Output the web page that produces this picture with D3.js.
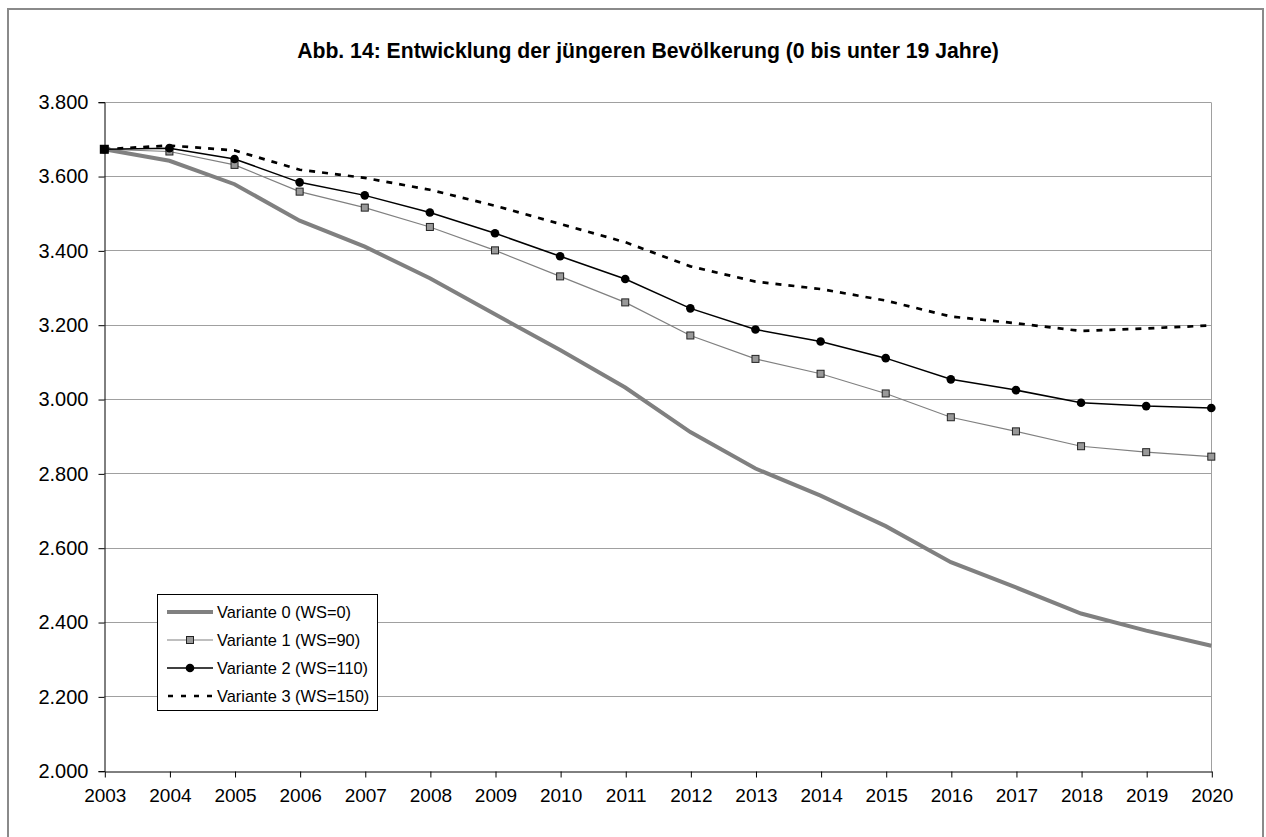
<!DOCTYPE html>
<html><head><meta charset="utf-8">
<script src="https://cdn.jsdelivr.net/npm/d3@7/dist/d3.min.js"></script>
<style>body{margin:0;background:#fff}svg{display:block}text{font-family:Arial,"Liberation Sans",sans-serif}</style>
</head><body>
<svg id="c" width="1266" height="837"></svg>
<script>
const years = [2003,2004,2005,2006,2007,2008,2009,2010,2011,2012,2013,2014,2015,2016,2017,2018,2019,2020];
const variante0 = [3672,3641,3578,3480,3410,3325,3228,3132,3031,2911,2813,2740,2658,2561,2493,2423,2377,2336];
const variante1 = [3672,3666,3630,3558,3515,3463,3400,3330,3260,3171,3108,3068,3015,2951,2913,2873,2857,2845];
const variante2 = [3672,3675,3646,3583,3548,3502,3446,3384,3323,3244,3187,3155,3110,3053,3024,2990,2981,2976];
const variante3 = [3672,3682,3669,3617,3595,3563,3520,3471,3422,3357,3316,3296,3265,3222,3204,3183,3190,3198];
const yTicks = [2000,2200,2400,2600,2800,3000,3200,3400,3600,3800];
const seriesNames = ["Variante 0 (WS=0)","Variante 1 (WS=90)","Variante 2 (WS=110)","Variante 3 (WS=150)"];
const title = "Abb. 14: Entwicklung der jüngeren Bevölkerung (0 bis unter 19 Jahre)";

const svg = d3.select("#c");
const L = 104.3, R = 1211.3, T = 101.7, B = 770.7;
const x = d3.scaleLinear().domain([2003,2020]).range([L,R]);
const y = d3.scaleLinear().domain([2000,3800]).range([B,T]);

// outer frame
svg.append("rect").attr("x",8).attr("y",9).attr("width",1255).attr("height",860)
  .attr("fill","#fff").attr("stroke","#8a8a8a").attr("stroke-width",2);

// title
svg.append("text").attr("x",648).attr("y",58).attr("text-anchor","middle")
  .attr("font-weight","bold").attr("font-size",21.2).attr("fill","#000").text(title);

// gridlines
svg.append("g").selectAll("line").data(yTicks.filter(d=>d>2000)).join("line")
  .attr("x1",L).attr("x2",R).attr("y1",d=>Math.round(y(d))+0.5).attr("y2",d=>Math.round(y(d))+0.5)
  .attr("stroke","#a0a0a0").attr("stroke-width",1);
// right border of plot
svg.append("line").attr("x1",Math.round(R)+0.5).attr("x2",Math.round(R)+0.5)
  .attr("y1",Math.round(T)+0.5).attr("y2",Math.round(B)+0.5).attr("stroke","#a0a0a0");

// y axis
const yAxis = d3.axisLeft(y).tickValues(yTicks).tickSize(6).tickPadding(10)
  .tickFormat(d => (d/1000).toFixed(3));
const gy = svg.append("g").attr("transform",`translate(${Math.round(L)+0.5},0.5)`).call(yAxis);
gy.selectAll("text").attr("font-size",20).attr("fill","#000").attr("font-family","Arial, 'Liberation Sans', sans-serif");
gy.selectAll("line,path").attr("stroke","#000");

// x axis
const xAxis = d3.axisBottom(x).tickValues(years).tickSize(6).tickSizeOuter(0).tickPadding(11).tickFormat(d3.format("d"));
const gx = svg.append("g").attr("transform",`translate(0.5,${Math.round(B)+0.5})`).call(xAxis);
gx.selectAll("text").attr("font-size",19).attr("fill","#000").attr("font-family","Arial, 'Liberation Sans', sans-serif");
gx.selectAll("line,path").attr("stroke","#000");

const line = d3.line().x((d,i)=>x(years[i])).y(d=>y(d));

// Variante 3 dashed
svg.append("path").datum(variante3).attr("d",line).attr("fill","none")
  .attr("stroke","#000").attr("stroke-width",2.7).attr("stroke-dasharray","6,7");
// Variante 0 thick gray
svg.append("path").datum(variante0).attr("d",line).attr("fill","none")
  .attr("stroke","#808080").attr("stroke-width",4);
// Variante 1 gray thin with squares
svg.append("path").datum(variante1).attr("d",line).attr("fill","none")
  .attr("stroke","#808080").attr("stroke-width",1.2);
svg.append("g").selectAll("rect").data(variante1).join("rect")
  .attr("x",(d,i)=>x(years[i])-3.5).attr("y",d=>y(d)-3.5).attr("width",7).attr("height",7)
  .attr("fill","#999").attr("stroke","#222").attr("stroke-width",1);
// Variante 2 black with circles
svg.append("path").datum(variante2).attr("d",line).attr("fill","none")
  .attr("stroke","#000").attr("stroke-width",1.5);
svg.append("g").selectAll("circle").data(variante2).join("circle")
  .attr("cx",(d,i)=>x(years[i])).attr("cy",d=>y(d)).attr("r",4.3).attr("fill","#000");
// starting point square (Variante 3 first marker)
svg.append("rect").datum(variante3[0])
  .attr("x",x(years[0])-4.5).attr("y",d=>y(d)-4.5).attr("width",9).attr("height",9).attr("fill","#000");

// legend
const lg = svg.append("g");
lg.append("rect").attr("x",157.5).attr("y",594.5).attr("width",220).attr("height",116)
  .attr("fill","#fff").attr("stroke","#000").attr("stroke-width",1);
const ly = [612,640,668,696];
const styles = [
  {stroke:"#808080",w:4,dash:null,marker:null},
  {stroke:"#808080",w:1.2,dash:null,marker:"sq"},
  {stroke:"#000",w:1.5,dash:null,marker:"ci"},
  {stroke:"#000",w:2.7,dash:"5,8",marker:null}
];
seriesNames.forEach((n,i)=>{
  const s = styles[i];
  const ln = lg.append("line").attr("x1",167).attr("x2",213).attr("y1",ly[i]).attr("y2",ly[i])
    .attr("stroke",s.stroke).attr("stroke-width",s.w);
  if (s.dash) ln.attr("x1",168).attr("stroke-dasharray",s.dash);
  if (s.marker==="sq") lg.append("rect").attr("x",186.5).attr("y",ly[i]-3.5).attr("width",7).attr("height",7)
    .attr("fill","#999").attr("stroke","#222");
  if (s.marker==="ci") lg.append("circle").attr("cx",190).attr("cy",ly[i]).attr("r",4.3).attr("fill","#000");
  lg.append("text").attr("x",217).attr("y",ly[i]).attr("dy","0.35em").attr("font-size",16.4).attr("fill","#000").text(n);
});
</script>
</body></html>
